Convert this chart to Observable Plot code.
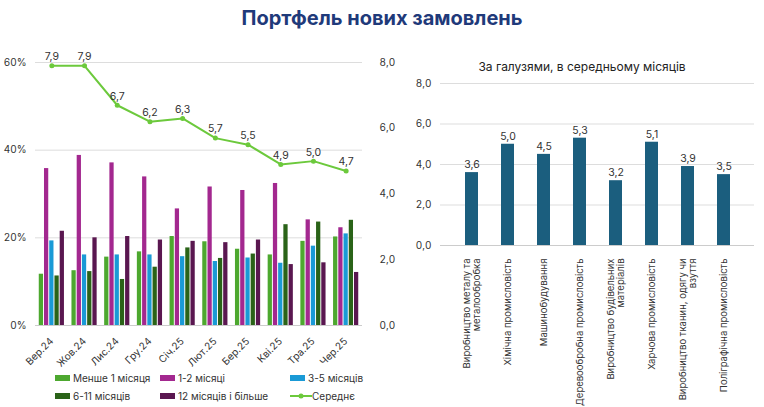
<!DOCTYPE html><html><head><meta charset="utf-8">
<script src="https://cdn.jsdelivr.net/npm/d3@7"></script>
<script src="https://cdn.jsdelivr.net/npm/@observablehq/plot@0.6"></script>
<style>body{margin:0;width:764px;height:407px;font-family:Inter,"Noto Sans",sans-serif;background:#fff;position:relative;overflow:hidden}
#t{position:absolute;top:6px;width:764px;text-align:center;font-size:20px;font-weight:700;color:#1f3a7a}
#l{position:absolute;left:0;top:40px}#r{position:absolute;left:400px;top:40px}
#lg{position:absolute;left:55px;top:372px;font-size:10px;color:#333;display:grid;grid-template-columns:104px 208px;grid-template-columns:104px 104px 104px;column-gap:0;row-gap:6px}
#lg span{display:flex;align-items:center;white-space:nowrap}#lg i{display:inline-block;width:15px;height:6px;margin-right:3px}
#st{position:absolute;left:400px;top:59px;width:364px;text-align:center;font-size:12px;color:#222}
</style></head><body>
<div id="t">Портфель нових замовлень</div><div id="l"></div><div id="r"></div><div id="st">За галузями, в середньому місяців</div><div id="lg"></div>
<script>
const months=["Вер.24","Жов.24","Лис.24","Гру.24","Січ.25","Лют.25","Бер.25","Кві.25","Тра.25","Чер.25"];
const seriesNames=["Менше 1 місяця","1-2 місяці","3-5 місяців","6-11 місяців","12 місяців і більше"];
const colors=["#4da82f","#a3288f","#1a9ad6","#2a6318","#5a1750"];
const s0=[11.7,12.5,15.6,16.8,20.3,19.1,17.4,16.1,19.2,20.2];
const s1=[35.8,38.8,37.1,33.9,26.6,31.6,30.8,32.4,24.1,22.3];
const s2=[19.3,16.1,16.1,16.1,15.7,14.6,15.4,14.2,18.1,20.9];
const s3=[11.3,12.3,10.5,13.3,17.7,15.3,16.3,23.0,23.6,24.0];
const s4=[21.5,20.0,20.3,19.5,19.2,18.9,19.5,13.9,14.3,12.1];
const avg=[7.9,7.9,6.7,6.2,6.3,5.7,5.5,4.9,5.0,4.7];
const industries=["Виробництво металу та\nметалообробка","Хімічна промисловість","Машинобудування","Деревообробна промисловість","Виробництво будівельних\nматеріалів","Харчова промисловість","Виробництво тканин, одягу чи\nвзуття","Поліграфічна промисловість"];
const indVals=[3.6,5.0,4.5,5.3,3.2,5.1,3.9,3.5];
const all=[s0,s1,s2,s3,s4];
const bars=[];all.forEach((s,j)=>s.forEach((v,i)=>bars.push({i,j,v,x1:i-0.4+j*0.16+0.015,x2:i-0.4+j*0.16+0.145})));
const k=7.5;
const line=avg.map((v,i)=>({i,v:v*k,lab:v.toFixed(1).replace(".",",")}));
const fmt=d=>d.toFixed(1).replace(".",",");
const left=Plot.plot({width:400,height:335,marginLeft:35,marginRight:38,marginTop:22,marginBottom:50,
 style:{fontSize:"10px",fontFamily:"Inter,sans-serif",color:"#333"},
 x:{domain:[-0.5,9.5]},y:{domain:[0,60]},
 marks:[
  Plot.gridY([20,40,60],{stroke:"#ddd",strokeOpacity:1}),
  Plot.axisY([0,20,40,60],{tickFormat:d=>d+"%",tickSize:0,label:null}),
  Plot.axisY([0,15,30,45,60],{anchor:"right",tickFormat:d=>fmt(d/k),tickSize:0,label:null,dx:8}),
  Plot.axisX(d3.range(10),{tickFormat:d=>months[d],tickRotate:-45,tickSize:0,textAnchor:"end",dy:2,label:null}),
  Plot.ruleY([0],{stroke:"#ccc"}),
  Plot.rectY(bars,{x1:"x1",x2:"x2",y:"v",fill:d=>colors[d.j]}),
  Plot.line(line,{x:"i",y:"v",stroke:"#6cc93c",strokeWidth:2}),
  Plot.dot(line,{x:"i",y:"v",fill:"#6cc93c",r:2.5}),
  Plot.text(line,{x:"i",y:"v",text:"lab",dy:-9,fontSize:10.5})
 ]});
document.getElementById("l").append(left);
const right=Plot.plot({width:364,height:367,marginLeft:40,marginRight:10,marginTop:43,marginBottom:162,
 style:{fontSize:"10px",fontFamily:"Inter,sans-serif",color:"#333"},
 x:{domain:industries,padding:0.65},y:{domain:[0,8]},
 marks:[
  Plot.gridY([2,4,6,8],{stroke:"#ddd",strokeOpacity:1}),
  Plot.axisY([0,2,4,6,8],{tickFormat:fmt,tickSize:0,label:null}),
  Plot.axisX({tickRotate:-90,tickSize:0,textAnchor:"end",lineAnchor:"middle",dy:4,fontSize:9.5,label:null}),
  Plot.ruleY([0],{stroke:"#ccc"}),
  Plot.barY(industries.map((c,i)=>({c,v:indVals[i]})),{x:"c",y:"v",fill:"#1b5e7e"}),
  Plot.text(industries.map((c,i)=>({c,v:indVals[i]})),{x:"c",y:"v",text:d=>fmt(d.v),dy:-8,fontSize:10.5})
 ]});
document.getElementById("r").append(right);
const lg=document.getElementById("lg");
lg.style.gridTemplateColumns="105px 130px 110px";
seriesNames.forEach((n,j)=>{lg.innerHTML+=`<span><i style="background:${colors[j]}"></i>${n}</span>`});
lg.innerHTML+=`<span><svg width="22" height="8"><line x1="0" y1="4" x2="22" y2="4" stroke="#6cc93c" stroke-width="2"/><circle cx="11" cy="4" r="2.5" fill="#6cc93c"/></svg>Середнє</span>`;
</script></body></html>
